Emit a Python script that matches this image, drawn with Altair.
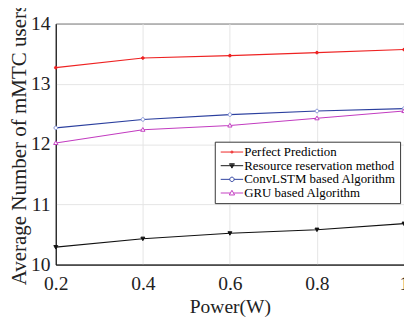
import altair as alt
import pandas as pd

power = [0.2, 0.4, 0.6, 0.8, 1.0]
series_names = ["Perfect Prediction", "Resource reservation method",
                "ConvLSTM based Algorithm", "GRU based Algorithm"]
perfect = [13.27, 13.43, 13.47, 13.52, 13.57]
resource = [10.29, 10.43, 10.52, 10.58, 10.68]
convlstm = [12.27, 12.41, 12.49, 12.55, 12.59]
gru = [12.02, 12.24, 12.31, 12.43, 12.55]

x_ticks = [0.2, 0.4, 0.6, 0.8, 1.0]
y_ticks = [10, 11, 12, 13, 14]

rows = []
for name, vals in zip(series_names, [perfect, resource, convlstm, gru]):
    for p, v in zip(power, vals):
        rows.append({"power": p, "value": v, "series": name})
df = pd.DataFrame(rows)

FONT = "Liberation Serif"
line_colors = ["#ee2222", "#111111", "#2b3f9e", "#c23cc0"]
marker_strokes = ["#ee2222", "#111111", "#7f8fd4", "#c23cc0"]
marker_fills = ["#ee2222", "#111111", "#ffffff", "#ffffff"]

# custom legend symbols: line + marker (1 unit = 5px at size 100); filled markers
# are drawn as nested outlines so that a stroke-only symbol looks filled
leg_shapes = [
    "M-2.3,0H2.3M0.22,0A0.22,0.22 0 1,1 -0.22,0A0.22,0.22 0 1,1 0.22,0Z",
    "M-2.3,0H2.3M-0.5,-0.4L0.5,-0.4L0,0.5ZM-0.25,-0.2L0.25,-0.2L0,0.25Z",
    "M-2.3,0H-0.45M0.45,0H2.3M0.45,0A0.45,0.45 0 1,1 -0.45,0A0.45,0.45 0 1,1 0.45,0Z",
    "M-2.3,0H-0.32M0.32,0H2.3M-0.55,0.4L0.55,0.4L0,-0.55Z",
]
pt_shapes = [
    "M0.7,0A0.7,0.7 0 1,1 -0.7,0A0.7,0.7 0 1,1 0.7,0Z",
    "M-1,-0.8L1,-0.8L0,1Z",
    "M0.9,0A0.9,0.9 0 1,1 -0.9,0A0.9,0.9 0 1,1 0.9,0Z",
    "M-1.1,0.8L1.1,0.8L0,-1.1Z",
]

xenc = alt.X("power:Q",
             scale=alt.Scale(domain=[0.2, 1.0], nice=False, zero=False),
             axis=alt.Axis(values=x_ticks, title="Power(W)",
                           labelExpr="datum.value == 1 ? '1' : format(datum.value, '.1f')",
                           ticks=False, labelPadding=10, titlePadding=3,
                           labelFlush=False, grid=True))
yenc = alt.Y("value:Q",
             scale=alt.Scale(domain=[10, 14], nice=False, zero=False),
             axis=alt.Axis(values=y_ticks, title="Average Number of mMTC users",
                           ticks=False, labelPadding=6, titlePadding=0,
                           titleFontSize=21.5, grid=True))

layers = []
for name, lc in zip(series_names, line_colors):
    layers.append(
        alt.Chart(df).transform_filter(alt.datum.series == name)
        .mark_line(strokeWidth=1.1, color=lc)
        .encode(x=xenc, y=yenc)
    )
for name, shp, fc, sc in zip(series_names, pt_shapes, marker_fills, marker_strokes):
    layers.append(
        alt.Chart(df).transform_filter(alt.datum.series == name).mark_point(
            shape=shp, size=16, strokeWidth=1, opacity=1, filled=False,
            fill=fc, stroke=sc
        ).encode(x=xenc, y=yenc)
    )

leg = alt.Legend(title=None, labelFont=FONT, labelFontSize=13.2, labelColor="black")
legend_layer = alt.Chart(df).mark_point(size=100, strokeWidth=1, opacity=0, filled=False).encode(
    x=xenc, y=yenc,
    color=alt.Color("series:N", scale=alt.Scale(domain=series_names, range=line_colors), legend=leg),
    shape=alt.Shape("series:N", scale=alt.Scale(domain=series_names, range=leg_shapes), legend=leg),
)
layers.append(legend_layer)

chart = alt.layer(*layers).properties(
    width=357, height=247,
    autosize=alt.AutoSizeParams(type="none"),
    padding={"left": 49, "top": 12, "right": 0, "bottom": 64},
).configure_view(
    stroke="black", strokeWidth=1
).configure_axis(
    labelFont=FONT, titleFont=FONT, labelFontSize=20, titleFontSize=20,
    labelColor="#222222", titleColor="#222222", titleFontWeight="normal",
    domainColor="black", gridColor="#e4e4e4", gridWidth=1,
).configure_legend(
    orient="none", legendX=163, legendY=121,
    labelFont=FONT, labelFontSize=13.2, labelColor="black",
    symbolOpacity=1, symbolStrokeWidth=1,
    symbolOffset=7, labelOffset=6,
    rowPadding=0, padding=4,
    strokeColor="#333333", fillColor="white",
    labelLimit=300,
)

chart.save("out.html", embed_options={"renderer": "svg", "actions": False})
